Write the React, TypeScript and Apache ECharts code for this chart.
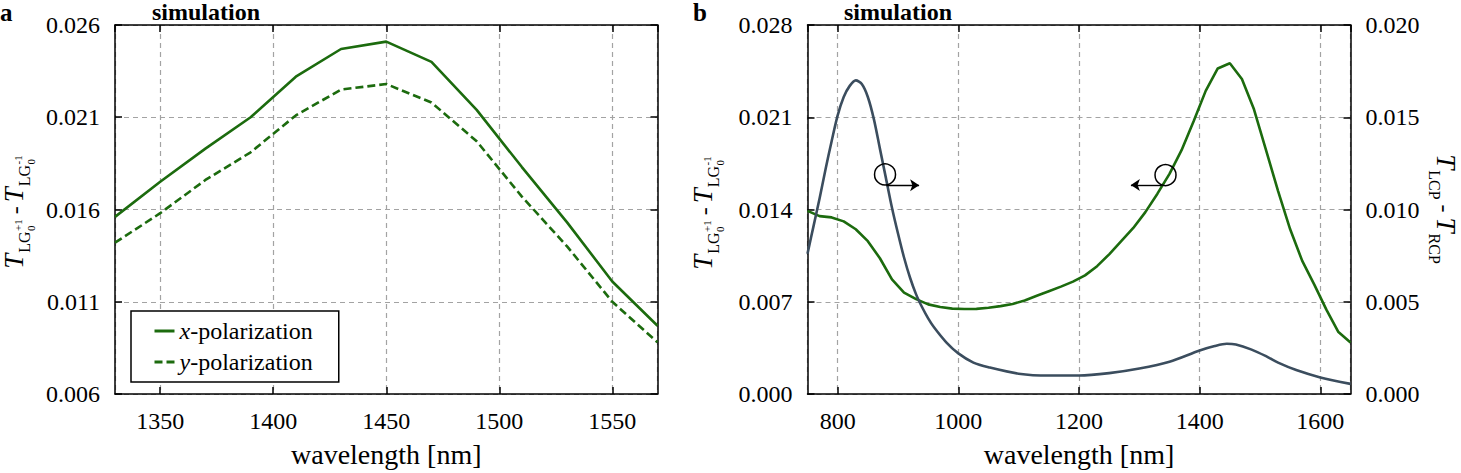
import React, { useEffect, useRef } from 'react';
import * as echarts from 'echarts';

const SERIF = 'Liberation Serif, Times New Roman, serif';
const GREEN = '#1c6b0e';
const SLATE = '#3b4d5e';
const GRID_GRAY = '#a3a3a3';

// Panel a: LG difference for both incident polarizations
const polWavelengths = [1330, 1350, 1370, 1390, 1410, 1430, 1450, 1470, 1490, 1510, 1530, 1550, 1570];
const xPolarization = [0.0156, 0.0175, 0.0193, 0.0210, 0.0232, 0.0247, 0.0251, 0.0240, 0.0214, 0.0183, 0.0153, 0.0121, 0.0097];
const yPolarization = [0.0142, 0.0158, 0.0176, 0.0191, 0.0211, 0.0225, 0.0228, 0.0218, 0.0197, 0.0167, 0.0140, 0.0110, 0.0088];

// Panel b: LG difference (left axis)
const lgWavelengths = [
  750, 770, 790, 810, 830, 850, 870, 890, 910, 930,
  950, 970, 990, 1010, 1030, 1050, 1070, 1090, 1110, 1130,
  1150, 1170, 1190, 1210, 1230, 1250, 1270, 1290, 1310, 1330,
  1350, 1370, 1390, 1410, 1430, 1450, 1470, 1490, 1510, 1530,
  1550, 1570, 1590, 1610, 1630, 1650,
];
const lgDifference = [
  0.0139, 0.0135, 0.0134, 0.0131, 0.0125, 0.0116, 0.0103, 0.0087, 0.0077, 0.0072,
  0.0068, 0.0066, 0.00648, 0.00645, 0.00646, 0.00655, 0.00667, 0.00683, 0.0071, 0.00745,
  0.0078, 0.00815, 0.00853, 0.0090, 0.0097, 0.0106, 0.0116, 0.0126, 0.0138, 0.0152,
  0.0167, 0.0185, 0.0207, 0.0230, 0.0247, 0.0251, 0.0239, 0.0216, 0.0185, 0.0154,
  0.0125, 0.0101, 0.0083, 0.0064, 0.0047, 0.0039,
];

// Panel b: circular-polarization difference (right axis)
const cpWavelengths = [
  750, 760, 770, 780, 790, 800, 810, 820, 830, 840,
  850, 860, 870, 880, 890, 900, 910, 920, 930, 940,
  950, 960, 980, 1000, 1025, 1050, 1100, 1150, 1200, 1250,
  1300, 1350, 1400, 1425, 1445, 1460, 1485, 1510, 1530, 1560,
  1600, 1650,
];
const cpDifference = [
  0.0076, 0.0091, 0.0106, 0.0122, 0.0137, 0.0151, 0.0161, 0.0167, 0.0170, 0.0168,
  0.0161, 0.0149, 0.0133, 0.0117, 0.0101, 0.0087, 0.0074, 0.0063, 0.0054, 0.0047,
  0.0041, 0.0036, 0.0028, 0.0022, 0.0017, 0.00145, 0.0011, 0.0010, 0.0010, 0.00113,
  0.00138, 0.00175, 0.00236, 0.00260, 0.00272, 0.00268, 0.00242, 0.00205, 0.00170, 0.00130,
  0.00090, 0.00055,
];

// Axis ranges
const panelAX = { min: 1330, max: 1570, step: 50 };
const panelAY = { min: 0.006, max: 0.026, step: 0.005 };
const panelBX = { min: 750, max: 1650, step: 200 };
const panelBLeft = { min: 0, max: 0.028, step: 0.007 };
const panelBRight = { min: 0, max: 0.02, step: 0.005 };

// Annotation anchors: circle on a curve, arrow pointing to its axis
const cpMarker = { center: [878.5, 0.0119], arrow: [[881, 0.01131], [935, 0.01131]] };
const lgMarker = { center: [1343.4, 0.01661], arrow: [[1337, 0.01586], [1286, 0.01586]] };

const pairs = (xs: number[], ys: number[]) => xs.map((x, i) => [x, ys[i]]);

type Piece = { text: string; size: number; italic?: boolean; dv: number; gap?: number; stack?: boolean };

const leftTitle: Piece[] = [
  { text: 'T', size: 27, italic: true, dv: 0 },
  { text: 'LG', size: 16, dv: 7, gap: 1 },
  { text: '+1', size: 11, dv: -1, gap: 0.5 },
  { text: '0', size: 11, dv: 12, stack: true },
  { text: '-', size: 24, dv: 0, gap: 5 },
  { text: 'T', size: 27, italic: true, dv: 0, gap: 4 },
  { text: 'LG', size: 16, dv: 7, gap: 1 },
  { text: '-1', size: 11, dv: -1, gap: 0.5 },
  { text: '0', size: 11, dv: 12, stack: true },
];

const rightTitle: Piece[] = [
  { text: 'T', size: 27, italic: true, dv: 0 },
  { text: 'LCP', size: 16, dv: 8, gap: 1 },
  { text: '-', size: 24, dv: 0, gap: 5 },
  { text: 'T', size: 27, italic: true, dv: 0, gap: 5 },
  { text: 'RCP', size: 16, dv: 8, gap: 1 },
];

function fontOf(p: Piece) {
  return `${p.italic ? 'italic ' : ''}${p.size}px ${SERIF}`;
}

// Lays out a formula along its baseline, then rotates the whole group
function mathTitle(pieces: Piece[], cx: number, cy: number, rotation: number) {
  const ctx = document.createElement('canvas').getContext('2d') as CanvasRenderingContext2D;
  let u = 0;
  let lastStart = 0;
  let lastW = 0;
  const placed: { p: Piece; start: number }[] = [];
  for (const p of pieces) {
    ctx.font = fontOf(p);
    const w = ctx.measureText(p.text).width;
    let start: number;
    if (p.stack) {
      start = lastStart;
      lastW = Math.max(lastW, w);
      u = start + lastW;
    } else {
      start = u + (p.gap || 0);
      u = start + w;
      lastStart = start;
      lastW = w;
    }
    placed.push({ p, start });
  }
  const total = u;
  return {
    type: 'group',
    x: cx,
    y: cy,
    rotation,
    children: placed.map(({ p, start }) => ({
      type: 'text',
      x: start - total / 2,
      y: p.dv - 0.3375 * p.size,
      style: {
        text: p.text,
        fontSize: p.size,
        fontFamily: SERIF,
        fontStyle: p.italic ? 'italic' : 'normal',
        fill: '#000',
        textAlign: 'left',
        textVerticalAlign: 'middle',
        align: 'left',
        verticalAlign: 'middle',
      },
    })),
  };
}

function plainText(text: string, x: number, y: number, size: number, align: string) {
  return {
    type: 'text',
    x,
    y,
    style: {
      text,
      fontSize: size,
      fontFamily: SERIF,
      fontWeight: 'bold',
      fill: '#000',
      textAlign: align,
      textVerticalAlign: 'middle',
      align,
      verticalAlign: 'middle',
    },
  };
}

const axisLine = { show: true, onZero: false, lineStyle: { color: '#000', width: 1.5 } };
const axisTick = { show: true, inside: true, length: 7, lineStyle: { color: '#000', width: 1.5 } };
const splitLine = { show: true, lineStyle: { color: GRID_GRAY, width: 1.2, type: [5, 4] } };
const labelFont = { fontFamily: SERIF, fontSize: 24, color: '#000' };
const nameFont = { fontFamily: SERIF, fontSize: 28, color: '#000' };

function xAxes(gridIndex: number, r: { min: number; max: number; step: number }) {
  return [
    {
      type: 'value',
      gridIndex,
      position: 'bottom',
      min: r.min,
      max: r.max,
      splitNumber: 5,
      axisLine,
      axisTick,
      splitLine,
      axisLabel: {
        ...labelFont,
        margin: 15,
        showMinLabel: false,
        showMaxLabel: false,
        formatter: (v: number) => (v % r.step === 0 ? String(v) : ''),
      },
      name: 'wavelength [nm]',
      nameLocation: 'middle',
      nameGap: 46,
      nameTextStyle: nameFont,
    },
    {
      type: 'value',
      gridIndex,
      position: 'top',
      min: r.min,
      max: r.max,
      splitNumber: 5,
      axisLine,
      axisTick,
      splitLine: { show: false },
      axisLabel: { show: false },
    },
  ];
}

function yAxis(gridIndex: number, r: { min: number; max: number; step: number }, position: string, labels: boolean, grid: boolean) {
  return {
    type: 'value',
    gridIndex,
    position,
    min: r.min,
    max: r.max,
    interval: r.step,
    axisLine,
    axisTick,
    splitLine: grid ? splitLine : { show: false },
    axisLabel: labels
      ? { ...labelFont, margin: 15, formatter: (v: number) => v.toFixed(3) }
      : { show: false },
  };
}

function marker(m: { center: number[]; arrow: number[][] }) {
  return {
    markPoint: {
      silent: true,
      symbol: 'circle',
      symbolSize: 21,
      itemStyle: { color: 'transparent', borderColor: '#000', borderWidth: 1.5 },
      label: { show: false },
      data: [{ coord: m.center }],
    },
    markLine: {
      silent: true,
      symbol: ['none', 'arrow'],
      symbolSize: 9,
      label: { show: false },
      lineStyle: { color: '#000', width: 1.4, type: 'solid' },
      data: [[{ coord: m.arrow[0] }, { coord: m.arrow[1] }]],
    },
  };
}

export default function App() {
  const ref = useRef<HTMLDivElement>(null);

  useEffect(() => {
    if (!ref.current) return;
    const chart = echarts.init(ref.current, null, { renderer: 'svg' });
    const option: any = {
      animation: false,
      backgroundColor: '#fff',
      grid: [
        { left: 115, top: 25, width: 542.5, height: 373 },
        { left: 807.5, top: 25, width: 543, height: 373 },
      ],
      xAxis: [...xAxes(0, panelAX), ...xAxes(1, panelBX)],
      yAxis: [
        yAxis(0, panelAY, 'left', true, true),
        yAxis(0, panelAY, 'right', false, false),
        yAxis(1, panelBLeft, 'left', true, true),
        yAxis(1, panelBRight, 'right', true, false),
      ],
      legend: {
        data: ['x-polarization', 'y-polarization'],
        orient: 'vertical',
        left: 131,
        top: 311,
        padding: [8, 26, 8, 22],
        itemGap: 7,
        itemWidth: 20,
        itemHeight: 2,
        borderColor: '#000',
        borderWidth: 1.5,
        borderRadius: 0,
        backgroundColor: '#fff',
        itemStyle: { opacity: 0 },
        lineStyle: { width: 3 },
        textStyle: {
          ...labelFont,
          rich: {
            i: { ...labelFont, fontStyle: 'italic' },
            r: { ...labelFont },
          },
        },
        formatter: (name: string) => `{i|${name[0]}}{r|${name.slice(1)}}`,
      },
      series: [
        {
          name: 'x-polarization',
          type: 'line',
          xAxisIndex: 0,
          yAxisIndex: 0,
          data: pairs(polWavelengths, xPolarization),
          symbol: 'none',
          lineStyle: { color: GREEN, width: 2.6 },
          itemStyle: { color: GREEN },
          z: 3,
        },
        {
          name: 'y-polarization',
          type: 'line',
          xAxisIndex: 0,
          yAxisIndex: 0,
          data: pairs(polWavelengths, yPolarization),
          symbol: 'none',
          lineStyle: { color: GREEN, width: 2.6, type: [8, 4] },
          itemStyle: { color: GREEN },
          z: 3,
        },
        {
          name: 'LG difference',
          type: 'line',
          xAxisIndex: 2,
          yAxisIndex: 2,
          data: pairs(lgWavelengths, lgDifference),
          symbol: 'none',
          lineStyle: { color: GREEN, width: 2.6 },
          itemStyle: { color: GREEN },
          z: 3,
          ...marker(lgMarker),
        },
        {
          name: 'CP difference',
          type: 'line',
          xAxisIndex: 2,
          yAxisIndex: 3,
          data: pairs(cpWavelengths, cpDifference),
          symbol: 'none',
          smooth: 0.3,
          lineStyle: { color: SLATE, width: 2.6 },
          itemStyle: { color: SLATE },
          z: 3,
          ...marker(cpMarker),
        },
      ],
      graphic: [
        plainText('a', 0, 12.5, 25, 'left'),
        plainText('b', 693, 12.5, 25, 'left'),
        plainText('simulation', 206, 12, 24, 'center'),
        plainText('simulation', 898, 12, 24, 'center'),
        mathTitle(leftTitle, 23, 212, Math.PI / 2),
        mathTitle(leftTitle, 712, 213, Math.PI / 2),
        mathTitle(rightTitle, 1437, 209, -Math.PI / 2),
      ],
    };
    chart.setOption(option);
    return () => chart.dispose();
  }, []);

  return (
    <div
      ref={ref}
      style={{ position: 'absolute', left: 0, top: 0, width: 1461, height: 473, background: '#fff' }}
    />
  );
}
